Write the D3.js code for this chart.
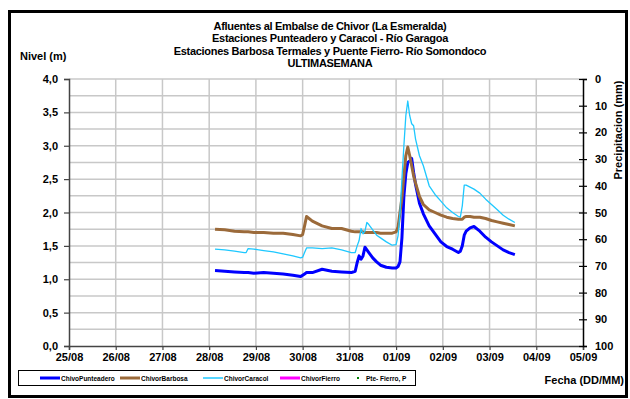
<!DOCTYPE html>
<html><head><meta charset="utf-8">
<script src="https://cdn.jsdelivr.net/npm/d3@7"></script>
<style>
body{margin:0;background:#fff}
text{font-family:"Liberation Sans",Arial,sans-serif;font-weight:bold;fill:#000}
</style>
</head><body><svg id="c" width="630" height="399"></svg>
<script>
// hours since 25/08 00:00
const hours = [75,80,85,90,91,92,95,100,105,110,115,119,120,121,122,125,130,135,140,145,147,148,149,150,151,152,153,154,156,158,160,163,166,168,169,170,171,172,173,174,175,176,177,178,180,182,185,188,191,194,197,200,201,202,203,204,206,208,211,214,217,220,223,226,229];
const punteadero = [1.13,1.12,1.11,1.10,1.10,1.10,1.09,1.10,1.09,1.08,1.06,1.04,1.06,1.08,1.10,1.10,1.15,1.12,1.11,1.10,1.12,1.25,1.35,1.30,1.35,1.48,1.44,1.40,1.32,1.26,1.21,1.18,1.17,1.17,1.19,1.26,1.62,2.24,2.58,2.75,2.77,2.81,2.60,2.42,2.14,1.98,1.80,1.68,1.56,1.49,1.45,1.40,1.42,1.50,1.66,1.72,1.77,1.79,1.72,1.63,1.56,1.50,1.44,1.40,1.37];
const barbosa = [1.75,1.74,1.72,1.71,1.71,1.71,1.70,1.70,1.69,1.69,1.67,1.65,1.67,1.80,1.94,1.87,1.80,1.76,1.76,1.72,1.71,1.71,1.71,1.71,1.71,1.70,1.70,1.70,1.70,1.70,1.69,1.69,1.69,1.71,1.78,2.00,2.22,2.55,2.85,2.98,2.85,2.70,2.55,2.44,2.24,2.12,2.04,2.00,1.96,1.93,1.91,1.90,1.90,1.90,1.93,1.94,1.94,1.93,1.93,1.91,1.88,1.86,1.84,1.82,1.80];
const caracol = [1.45,1.44,1.42,1.40,1.40,1.46,1.45,1.43,1.41,1.38,1.35,1.32,1.33,1.40,1.47,1.47,1.46,1.47,1.44,1.40,1.40,1.50,1.58,1.76,1.68,1.72,1.85,1.82,1.74,1.66,1.62,1.56,1.51,1.52,1.65,1.99,2.50,3.00,3.45,3.67,3.45,3.33,3.30,3.10,2.85,2.70,2.40,2.27,2.17,2.07,2.00,1.94,1.93,2.10,2.41,2.41,2.38,2.35,2.29,2.20,2.12,2.04,1.96,1.90,1.85];
const fierro = [];
const pteFierroP = [];
const dayLabels = ["25/08","26/08","27/08","28/08","29/08","30/08","31/08","01/09","02/09","03/09","04/09","05/09"];
const nivelTicks = [0,0.5,1,1.5,2,2.5,3,3.5,4];
const precipTicks = [0,10,20,30,40,50,60,70,80,90,100];
const titleLines = ["Afluentes al Embalse de Chivor (La Esmeralda)","Estaciones Punteadero y Caracol - Río Garagoa","Estaciones Barbosa Termales y Puente Fierro- Río Somondoco","ULTIMASEMANA"];
const legendNames = ["ChivoPunteadero","ChivorBarbosa","ChivorCaracol","ChivorFierro","Pte- Fierro, P"];
const colors = ["#0000ff","#9b6a3a","#1ec8ff","#ff00ff","#008000"];

const L=69, R=583, T=79, B=346;
const svg=d3.select("#c");
svg.append("rect").attr("x",0).attr("y",0).attr("width",630).attr("height",399).attr("fill","#fff");
svg.append("rect").attr("x",9.5).attr("y",11.5).attr("width",617).attr("height",385).attr("fill","none").attr("stroke","#000").attr("stroke-width",3);

const x=d3.scaleLinear().domain([0,264]).range([L,R]);
const y=d3.scaleLinear().domain([0,4]).range([B,T]);
const yr=d3.scaleLinear().domain([0,100]).range([T,B]);

// grid
const g=svg.append("g");
g.selectAll(".hg").data(d3.range(1,17).map(i=>i*0.25)).enter().append("line")
 .attr("x1",L).attr("x2",R).attr("y1",d=>y(d)).attr("y2",d=>y(d))
 .attr("stroke","#c8c8c8").attr("stroke-width",1.5);
g.selectAll(".vg").data(d3.range(1,11).map(i=>i*24)).enter().append("line")
 .attr("x1",d=>x(d)).attr("x2",d=>x(d)).attr("y1",T).attr("y2",B)
 .attr("stroke","#c8c8c8").attr("stroke-width",1.5);

// axes
const fmt=d3.format(".1f");
const ax=svg.append("g").attr("transform",`translate(${L},0)`)
 .call(d3.axisLeft(y).tickValues(nivelTicks).tickSize(5).tickPadding(6).tickFormat(d=>fmt(d).replace(".",",")));
ax.select(".domain").attr("stroke","#444").attr("stroke-width",1.5);
ax.selectAll(".tick line").attr("stroke","#444").attr("stroke-width",1.2);
ax.selectAll("text").style("font-size","11px");

const bx=svg.append("g").attr("transform",`translate(0,${B})`)
 .call(d3.axisBottom(x).tickValues(d3.range(0,12).map(i=>i*24)).tickSize(4).tickPadding(3).tickFormat((d,i)=>dayLabels[i]));
bx.select(".domain").attr("stroke","#444").attr("stroke-width",1.5);
bx.selectAll(".tick line").attr("stroke","#444").attr("stroke-width",1.2);
bx.selectAll("text").style("font-size","11px");

const rx=svg.append("g").attr("transform",`translate(${R},0)`)
 .call(d3.axisRight(yr).tickValues(precipTicks).tickSize(4).tickPadding(8));
rx.select(".domain").attr("stroke","#000").attr("stroke-width",1.5);
rx.selectAll(".tick line").attr("x1",-4).attr("stroke","#000").attr("stroke-width",1.2);
rx.selectAll("text").style("font-size","11px");

// titles
svg.selectAll(".tt").data(titleLines).enter().append("text")
 .attr("x",330).attr("y",(d,i)=>30+i*12.3).attr("text-anchor","middle")
 .style("font-size","11px").style("letter-spacing","-0.3px").text(d=>d);
svg.append("text").attr("x",20).attr("y",60).style("font-size","11px").text("Nivel (m)");
svg.append("text").attr("transform","translate(622,130) rotate(-90)").attr("text-anchor","middle")
 .style("font-size","11px").text("Precipitacion (mm)");
svg.append("text").attr("x",624).attr("y",384).attr("text-anchor","end").style("font-size","11px").text("Fecha (DD/MM)");

// lines
const series=[punteadero,barbosa,caracol,fierro];
const widths=[3,3,1.3,3];
const line=d3.line().x((d,i)=>x(hours[i])).y(d=>y(d));
series.forEach((s,k)=>{
 if(!s.length) return;
 svg.append("path").datum(s).attr("d",line).attr("fill","none")
  .attr("stroke",colors[k]).attr("stroke-width",widths[k]).attr("stroke-linejoin","round");
});

// legend
const lg=svg.append("g");
lg.append("rect").attr("x",18.5).attr("y",370.5).attr("width",397).attr("height",15).attr("fill","#fff").attr("stroke","#000").attr("stroke-width",1);
const lx=[40,120,203,280,358];
legendNames.forEach((n,i)=>{
 if(i<4){
  lg.append("line").attr("x1",lx[i]).attr("x2",lx[i]+20).attr("y1",378).attr("y2",378)
   .attr("stroke",colors[i]).attr("stroke-width",i==2?1.5:3);
  lg.append("text").attr("x",lx[i]+21).attr("y",380.5).style("font-size","6.5px").text(n);
 } else {
  lg.append("rect").attr("x",lx[i]-1).attr("y",377).attr("width",2).attr("height",2).attr("fill",colors[i]);
  lg.append("text").attr("x",lx[i]+8).attr("y",380.5).style("font-size","6.5px").text(n);
 }
});
</script></body></html>
